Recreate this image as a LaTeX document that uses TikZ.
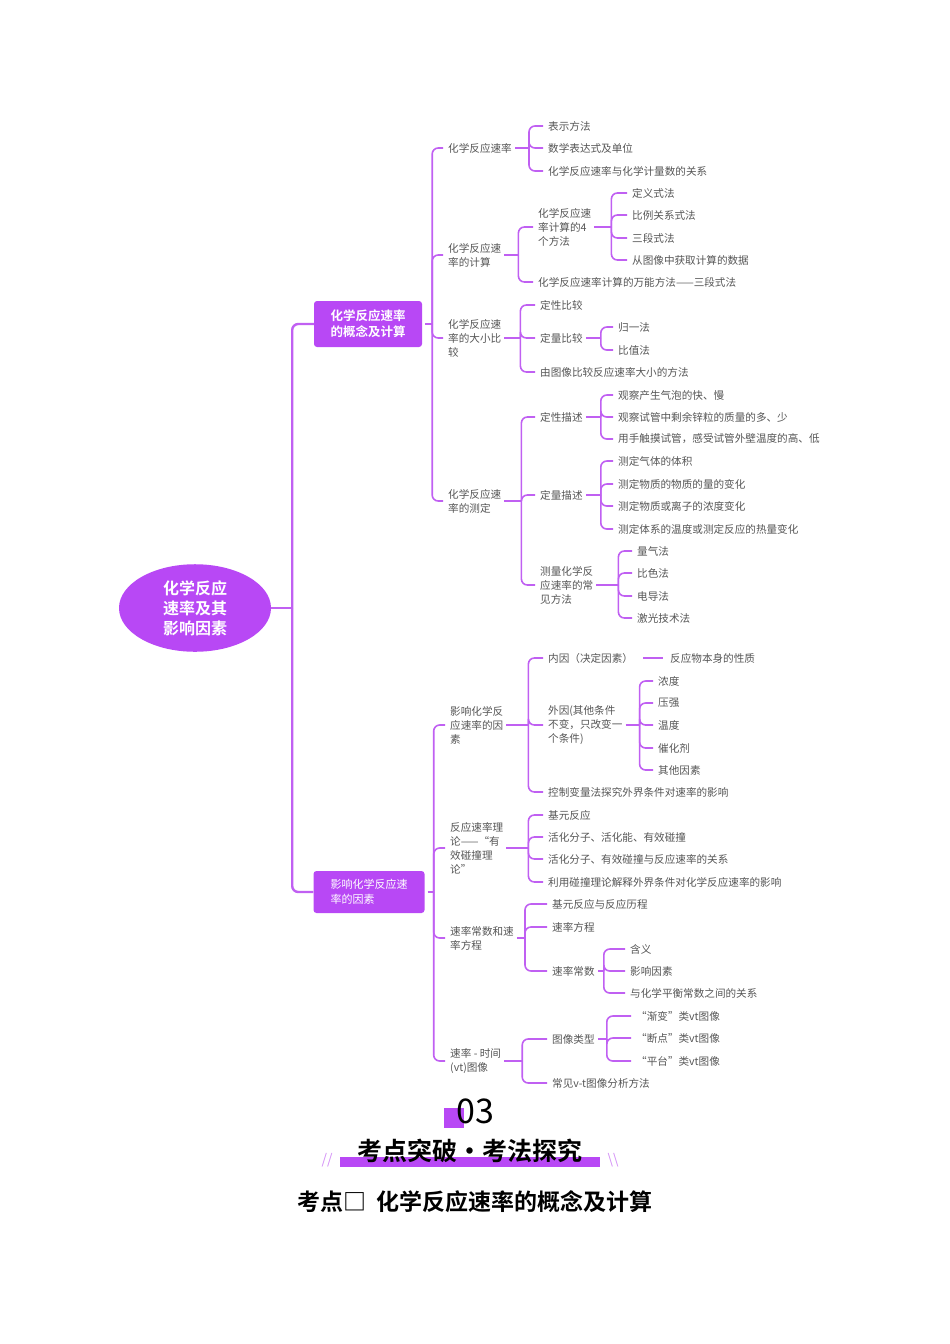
\documentclass[tikz,border=0pt]{standalone}
\usepackage{fontspec}
\setmainfont{Noto Sans CJK SC}[BoldFont={Noto Sans CJK SC Bold}]
\usetikzlibrary{positioning,shapes.geometric}
\definecolor{mm}{HTML}{C060F2}
\definecolor{mmfill}{HTML}{B848F5}
\definecolor{txt}{HTML}{555555}
\tikzset{
  lf/.style={anchor=west, inner sep=0pt, text=txt, align=left,
    font=\fontsize{10.6}{14}\selectfont},
  br/.style={draw=mm, line width=1.6pt, rounded corners=6pt},
  box/.style={fill=mmfill, text=white, rounded corners=3pt, align=left}
}
% one bracket: parent, length to spine, children
\newcommand\mmbranch[3]{%
  \draw[br, shorten <=3pt] (#1.east) -- ++(#2,0) coordinate (#1-s);
  \foreach \c in {#3} \draw[br, shorten >=5pt] (#1-s) |- (\c.west);}
\begin{document}
\begin{tikzpicture}[x=1pt,y=-1pt]
	\useasboundingbox (0,0) rectangle (950,1344);
	% root and main boxes
	\node[ellipse, fill=mmfill, minimum width=152, minimum height=84, text=white, align=center,
	  font=\fontsize{16}{20}\selectfont\bfseries] (root) at (195,608) {化学反应\\速率及其\\影响因素};
	\node[box, minimum width=108, minimum height=46, font=\fontsize{12.5}{16}\selectfont\bfseries] (b1) at (368,324) {化学反应速率\\的概念及计算};
	\node[box, minimum width=111, minimum height=42, font=\fontsize{11}{15}\selectfont] (b2) at (369,892) {影响化学反应速\\率的因素};
	\draw[br, line width=2.4pt] (root.east) -- ++(21,0) coordinate (root-s);
	\foreach \c in {b1,b2} \draw[br, line width=2.4pt] (root-s) |- (\c.west);

	% first box
	\node[lf] (a1) at (448,148) {化学反应速率};
	\node[lf] (a11) at (548,126) {表示方法};
	\node[lf] (a12) at (548,148) {数学表达式及单位};
	\node[lf] (a13) at (548,171) {化学反应速率与化学计量数的关系};
	\node[lf] (a2) at (448,255) {化学反应速\\率的计算};
	\node[lf] (a21) at (538,227) {化学反应速\\率计算的4\\个方法};
	\node[lf] (a211) at (632,193) {定义式法};
	\node[lf] (a212) at (632,215) {比例关系式法};
	\node[lf] (a213) at (632,238) {三段式法};
	\node[lf] (a214) at (632,260) {从图像中获取计算的数据};
	\node[lf] (a22) at (538,282) {化学反应速率计算的万能方法——三段式法};
	\node[lf] (a3) at (448,338) {化学反应速\\率的大小比\\较};
	\node[lf] (a31) at (540,305) {定性比较};
	\node[lf] (a32) at (540,338) {定量比较};
	\node[lf] (a321) at (618,327) {归一法};
	\node[lf] (a322) at (618,350) {比值法};
	\node[lf] (a33) at (540,372) {由图像比较反应速率大小的方法};
	\node[lf] (a4) at (448,501) {化学反应速\\率的测定};
	\node[lf] (a41) at (540,417) {定性描述};
	\node[lf] (a411) at (618,395) {观察产生气泡的快、慢};
	\node[lf] (a412) at (618,417) {观察试管中剩余锌粒的质量的多、少};
	\node[lf] (a413) at (618,439) {用手触摸试管，感受试管外壁温度的高、低};
	\node[lf] (a42) at (540,495) {定量描述};
	\node[lf] (a421) at (618,461) {测定气体的体积};
	\node[lf] (a422) at (618,484) {测定物质的物质的量的变化};
	\node[lf] (a423) at (618,506) {测定物质或离子的浓度变化};
	\node[lf] (a424) at (618,529) {测定体系的温度或测定反应的热量变化};
	\node[lf] (a43) at (540,585) {测量化学反\\应速率的常\\见方法};
	\node[lf] (a431) at (637,551) {量气法};
	\node[lf] (a432) at (637,573) {比色法};
	\node[lf] (a433) at (637,596) {电导法};
	\node[lf] (a434) at (637,618) {激光技术法};
	\mmbranch{b1}{10}{a1,a2,a3,a4}
	\mmbranch{a1}{17}{a11,a12,a13}
	\mmbranch{a2}{17}{a21,a22}
	\mmbranch{a21}{20}{a211,a212,a213,a214}
	\mmbranch{a3}{19}{a31,a32,a33}
	\mmbranch{a32}{18}{a321,a322}
	\mmbranch{a4}{20}{a41,a42,a43}
	\mmbranch{a41}{18}{a411,a412,a413}
	\mmbranch{a42}{18}{a421,a422,a423,a424}
	\mmbranch{a43}{25}{a431,a432,a433,a434}

	% second box
	\node[lf] (c1) at (450,725) {影响化学反\\应速率的因\\素};
	\node[lf] (c11) at (548,658) {内因（决定因素）};
	\node[lf] (c111) at (670,658) {反应物本身的性质};
	\node[lf] (c12) at (548,725) {外因(其他条件\\不变，只改变一\\个条件)};
	\node[lf] (c121) at (658,681) {浓度};
	\node[lf] (c122) at (658,703) {压强};
	\node[lf] (c123) at (658,725) {温度};
	\node[lf] (c124) at (658,748) {催化剂};
	\node[lf] (c125) at (658,770) {其他因素};
	\node[lf] (c13) at (548,792) {控制变量法探究外界条件对速率的影响};
	\node[lf] (c2) at (450,848) {反应速率理\\论——“有\\效碰撞理\\论”};
	\node[lf] (c21) at (548,815) {基元反应};
	\node[lf] (c22) at (548,837) {活化分子、活化能、有效碰撞};
	\node[lf] (c23) at (548,859) {活化分子、有效碰撞与反应速率的关系};
	\node[lf] (c24) at (548,882) {利用碰撞理论解释外界条件对化学反应速率的影响};
	\node[lf] (c3) at (450,938) {速率常数和速\\率方程};
	\node[lf] (c31) at (552,904) {基元反应与反应历程};
	\node[lf] (c32) at (552,927) {速率方程};
	\node[lf] (c33) at (552,971) {速率常数};
	\node[lf] (c331) at (630,949) {含义};
	\node[lf] (c332) at (630,971) {影响因素};
	\node[lf] (c333) at (630,993) {与化学平衡常数之间的关系};
	\node[lf] (c4) at (450,1061) {速率 - 时间\\(vt)图像};
	\node[lf] (c41) at (552,1039) {图像类型};
	\node[lf] (c411) at (636,1016) {“渐变”类vt图像};
	\node[lf] (c412) at (636,1038) {“断点”类vt图像};
	\node[lf] (c413) at (636,1061) {“平台”类vt图像};
	\node[lf] (c42) at (552,1083) {常见v-t图像分析方法};
	\mmbranch{b2}{9}{c1,c2,c3,c4}
	\mmbranch{c1}{25}{c11,c12,c13}
	\draw[br, shorten <=10pt, shorten >=7pt] (c11.east) -- (c111.west);
	\mmbranch{c12}{17}{c121,c122,c123,c124,c125}
	\mmbranch{c2}{25}{c21,c22,c23,c24}
	\mmbranch{c3}{11}{c31,c32,c33}
	\mmbranch{c33}{9}{c331,c332,c333}
	\mmbranch{c4}{21}{c41,c42}
	\mmbranch{c41}{12}{c411,c412,c413}

	% section heading
	\fill[mmfill] (444,1108) rectangle (464,1128);
	\node[font=\fontsize{34}{34}\selectfont] (num) at (475,1111) {03};
	\fill[mmfill] (340,1157) rectangle (600,1167);
	\node[font=\fontsize{25}{25}\selectfont\bfseries] (head) at (470,1151) {考点突破·考法探究};
	\node[text=mm!70, font=\fontsize{14}{14}\selectfont\itshape] (sl) at (327,1160) {//};
	\node[text=mm!70, font=\fontsize{14}{14}\selectfont\itshape] (sr) at (613,1160) {\textbackslash\textbackslash};
	\node[font=\fontsize{23}{23}\selectfont\bfseries] (title) at (475,1202) {考点□\ \ 化学反应速率的概念及计算};
\end{tikzpicture}
\end{document}
